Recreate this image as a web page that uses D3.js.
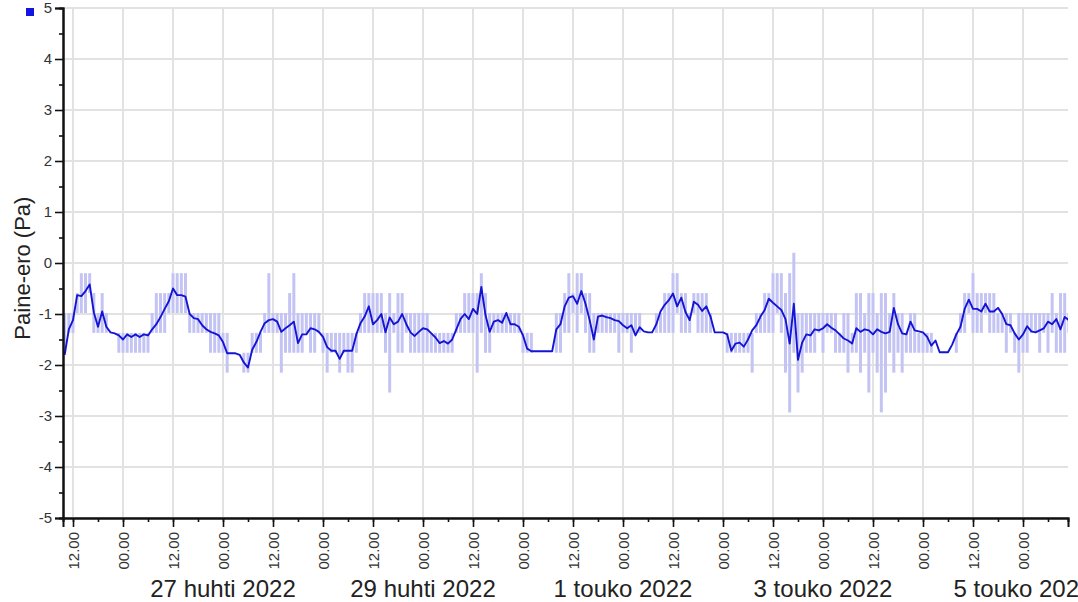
<!DOCTYPE html>
<html>
<head>
<meta charset="utf-8">
<script src="https://cdn.jsdelivr.net/npm/d3@7"></script>
<style>
  body { margin: 0; background: #fff; overflow: hidden; }
  svg { display: block; font-family: "Liberation Sans", Arial, sans-serif; }
</style>
</head>
<body>
<svg id="chart"></svg>
<script>
// hourly samples from 25.4.2022 10:00 onwards
const startTime = "2022-04-25T10:00";

// hourly mean pressure difference (Pa)
const paineKeski = [
  -1.8, -1.3, -1.12, -0.63, -0.65, -0.55, -0.42, -0.97, -1.25, -0.95,
  -1.25, -1.36, -1.38, -1.42, -1.5, -1.4, -1.45, -1.4, -1.45, -1.4,
  -1.42, -1.3, -1.2, -1.06, -0.9, -0.75, -0.5, -0.63, -0.63, -0.66,
  -1.0, -1.08, -1.1, -1.22, -1.3, -1.35, -1.38, -1.42, -1.55, -1.77,
  -1.77, -1.77, -1.8, -1.95, -2.05, -1.7, -1.55, -1.35, -1.18, -1.12,
  -1.1, -1.15, -1.35, -1.28, -1.22, -1.15, -1.57, -1.4, -1.4, -1.28,
  -1.3, -1.35, -1.45, -1.65, -1.72, -1.72, -1.88, -1.72, -1.72, -1.72,
  -1.4, -1.18, -1.05, -0.85, -1.2, -1.12, -1.0, -1.36, -1.07, -1.2,
  -1.15, -1.0, -1.2, -1.36, -1.43, -1.35, -1.28, -1.3, -1.38, -1.46,
  -1.57, -1.53, -1.58, -1.5, -1.3, -1.1, -1.0, -1.1, -0.9, -1.0,
  -0.47, -1.02, -1.35, -1.15, -1.12, -1.17, -0.98, -1.2, -1.2, -1.25,
  -1.42, -1.68, -1.73, -1.73, -1.73, -1.73, -1.73, -1.73, -1.3, -1.2,
  -0.85, -0.68, -0.65, -0.8, -0.55, -0.8, -1.12, -1.5, -1.05, -1.03,
  -1.06, -1.08, -1.12, -1.14, -1.22, -1.28, -1.22, -1.42, -1.26, -1.34,
  -1.36, -1.36, -1.2, -0.95, -0.82, -0.73, -0.6, -0.85, -0.68, -0.96,
  -1.12, -0.76, -0.82, -0.94, -0.85, -1.05, -1.36, -1.36, -1.36, -1.4,
  -1.72, -1.58, -1.56, -1.64, -1.5, -1.32, -1.22, -1.05, -0.92, -0.7,
  -0.78, -0.85, -0.92, -1.1, -1.58, -0.8, -1.9, -1.56, -1.4, -1.42,
  -1.3, -1.32, -1.28, -1.2, -1.27, -1.32, -1.4, -1.48, -1.52, -1.58,
  -1.28, -1.35, -1.3, -1.32, -1.4, -1.3, -1.35, -1.38, -1.35, -0.88,
  -1.2, -1.38, -1.4, -1.15, -1.32, -1.34, -1.36, -1.45, -1.62, -1.52,
  -1.75, -1.75, -1.75, -1.6, -1.4, -1.25, -0.9, -0.72, -0.9, -0.9,
  -0.95, -0.8, -0.95, -0.95, -0.88, -1.0, -1.2, -1.22, -1.38, -1.5,
  -1.4, -1.24, -1.34, -1.36, -1.32, -1.28, -1.15, -1.2, -1.1, -1.3,
  -1.06, -1.12
];

// hourly max / min of the raw readings (null = no spread)
const paineMax = [
  -0.98, -0.98, -0.98, -0.59, -0.2, -0.2, -0.2, -0.59, -0.98, -0.59,
  -0.98, null, null, -1.37, -1.37, -1.37, -1.37, -1.37, -1.37, -1.37,
  -1.37, -0.98, -0.59, -0.59, -0.59, -0.59, -0.2, -0.2, -0.2, -0.2,
  -0.98, -0.98, -0.98, -0.98, -0.98, -0.98, -0.98, -0.98, -1.37, -1.37,
  null, null, null, -1.76, -1.76, -1.37, -1.37, -1.37, -0.98, -0.2,
  -0.98, -0.98, -0.98, -0.98, -0.59, -0.2, -0.98, -0.98, -0.98, -0.98,
  -0.98, -0.98, -1.37, -1.37, -1.37, -1.37, -1.37, -1.37, -1.37, -1.37,
  -1.37, -0.98, -0.59, -0.59, -0.59, -0.59, -0.59, -0.98, -0.59, -0.98,
  -0.59, -0.59, -0.98, -0.98, -0.98, -0.98, -0.98, -0.98, -1.37, -1.37,
  -1.37, -1.37, -1.37, -1.37, -0.98, -0.98, -0.59, -0.59, -0.59, -0.59,
  -0.2, -0.59, -0.98, -0.98, -0.98, -0.98, -0.98, -0.98, -0.98, -0.98,
  -1.37, -1.37, -1.37, null, null, null, null, null, -0.98, -0.98,
  -0.59, -0.2, -0.59, -0.2, -0.2, -0.59, -0.59, -0.98, -0.98, -0.98,
  -0.98, -0.98, -0.98, -0.98, -0.98, -0.98, -0.98, -0.98, -0.98, null,
  null, null, -0.98, -0.98, -0.59, -0.59, -0.2, -0.2, -0.59, -0.59,
  -0.98, -0.59, -0.59, -0.59, -0.59, -0.98, null, null, null, -1.37,
  -1.37, -1.37, -1.37, -1.37, -1.37, -1.37, -0.98, -0.98, -0.59, -0.59,
  -0.2, -0.2, -0.2, -0.59, -0.2, 0.2, -0.98, -0.98, -0.98, -0.98,
  -0.98, -0.98, -0.98, -0.98, -0.98, -0.98, -1.37, -0.98, -0.98, -1.37,
  -0.59, -0.59, -0.98, -0.59, -0.59, -0.98, -0.59, -0.59, -0.98, -0.59,
  -0.98, -0.98, -1.37, -0.98, -0.98, -1.37, -1.37, -1.37, -1.37, null,
  null, null, null, null, -1.37, -0.98, -0.59, -0.59, -0.2, -0.59,
  -0.59, -0.59, -0.59, -0.59, -0.98, -0.98, -0.98, -0.98, -1.37, -0.98,
  -0.98, -0.98, -0.98, -0.98, -0.98, -0.98, -0.98, -0.59, -0.98, -0.59,
  -0.59, -0.98
];

const paineMin = [
  -1.76, -1.37, -1.37, -0.98, -0.98, -0.98, -0.59, -1.37, -1.37, -1.37,
  -1.37, null, null, -1.76, -1.76, -1.76, -1.76, -1.76, -1.76, -1.76,
  -1.76, -1.37, -1.37, -1.37, -1.37, -0.98, -0.98, -0.98, -0.98, -0.98,
  -1.37, -1.37, -1.37, -1.37, -1.37, -1.76, -1.76, -1.76, -1.76, -2.15,
  null, null, null, -2.15, -2.15, -1.76, -1.76, -1.76, -1.37, -1.37,
  -1.37, -1.37, -2.15, -1.76, -1.76, -1.76, -1.76, -1.76, -1.37, -1.76,
  -1.76, -1.37, -1.76, -2.15, -1.76, -1.76, -2.15, -1.76, -2.15, -2.15,
  -1.76, -1.37, -1.37, -1.37, -1.37, -1.37, -1.37, -1.76, -2.54, -1.37,
  -1.76, -1.76, -1.37, -1.76, -1.76, -1.76, -1.76, -1.76, -1.76, -1.76,
  -1.76, -1.76, -1.76, -1.76, -1.37, -1.37, -1.37, -1.37, -1.37, -2.15,
  -1.37, -1.76, -1.76, -1.37, -1.37, -1.37, -1.37, -1.37, -1.37, -1.37,
  -1.76, -1.76, -1.76, null, null, null, null, null, -1.76, -1.76,
  -1.37, -1.37, -0.98, -1.37, -0.98, -1.37, -1.76, -1.76, -1.37, -1.37,
  -1.37, -1.37, -1.37, -1.76, -1.37, -1.37, -1.76, -1.37, -1.37, null,
  null, null, -1.37, -1.37, -1.37, -1.37, -1.37, -0.98, -1.37, -1.37,
  -1.37, -0.98, -1.37, -1.37, -1.37, -1.37, null, null, null, -1.76,
  -1.76, -1.76, -1.76, -1.76, -1.76, -2.15, -1.37, -1.37, -1.37, -1.37,
  -1.37, -0.98, -1.37, -2.15, -2.93, -1.76, -2.54, -2.15, -1.76, -1.76,
  -1.76, -1.37, -1.76, -1.37, -1.37, -1.76, -1.76, -1.76, -2.15, -1.76,
  -1.76, -2.15, -1.76, -2.54, -1.76, -2.15, -2.93, -2.54, -1.76, -2.15,
  -1.76, -2.15, -1.76, -1.76, -1.76, -1.76, -1.76, -1.76, -1.76, null,
  null, null, null, null, -1.76, -1.37, -1.37, -0.98, -1.37, -1.37,
  -1.37, -0.98, -1.37, -1.37, -1.37, -1.37, -1.76, -1.37, -1.76, -2.15,
  -1.76, -1.76, -1.37, -1.37, -1.76, -1.37, -1.76, -1.37, -1.76, -1.76,
  -1.76, -1.37
];

const xDomain = ["2022-04-25T09:36", "2022-05-05T10:48"];
const yTicks = [-5, -4, -3, -2, -1, 0, 1, 2, 3, 4, 5];
const dateTicks = ["2022-04-27T00:00", "2022-04-29T00:00", "2022-05-01T00:00", "2022-05-03T00:00", "2022-05-05T00:00"];
const dateLabels = ["27 huhti 2022", "29 huhti 2022", "1 touko 2022", "3 touko 2022", "5 touko 2022"];
const yLabel = "Paine-ero (Pa)";

const W = 1078, H = 602;
const margin = {top: 8, right: 10, bottom: 84, left: 63},
    width = W - margin.left - margin.right,
    height = H - margin.top - margin.bottom;

const parse = d3.timeParse("%Y-%m-%dT%H:%M");
const t0 = parse(startTime);
const data = paineKeski.map((v, i) => ({
    t: d3.timeHour.offset(t0, i),
    v: v,
    hi: paineMax[i],
    lo: paineMin[i]
}));

const x = d3.scaleTime()
    .domain(xDomain.map(parse))
    .range([0, width]);

const y = d3.scaleLinear()
    .domain([-5, 5])
    .range([height, 0]);

const svg = d3.select('#chart')
    .attr("width", W)
    .attr("height", H);

const g = svg.append("g")
    .attr("transform", "translate(" + margin.left + "," + margin.top + ")");

svg.append("defs").append("clipPath").attr("id", "plot")
    .append("rect").attr("width", width).attr("height", height);

// grid
g.append("g").selectAll("line")
    .data(yTicks).enter().append("line")
    .attr("x1", 0).attr("x2", width)
    .attr("y1", d => y(d)).attr("y2", d => y(d))
    .style("stroke", "#e2e2e2").style("stroke-width", 2);

g.append("g").selectAll("line")
    .data(x.ticks(d3.timeHour.every(12))).enter().append("line")
    .attr("x1", d => x(d)).attr("x2", d => x(d))
    .attr("y1", 0).attr("y2", height)
    .style("stroke", "#e2e2e2").style("stroke-width", 2);

const plot = g.append("g").attr("clip-path", "url(#plot)");

// min-max spread
plot.append("g").selectAll("rect")
    .data(data.filter(d => d.hi !== null)).enter().append("rect")
    .attr("x", d => x(d.t) - 1.5)
    .attr("width", 3)
    .attr("y", d => y(d.hi))
    .attr("height", d => y(d.lo) - y(d.hi))
    .style("fill", "#c4c4f4");

const line = d3.line()
    .x(d => x(d.t))
    .y(d => y(d.v));

plot.append("path")
    .datum(data)
    .attr("d", line)
    .style("fill", "none")
    .style("stroke", "#1414d4")
    .style("stroke-width", 1.9)
    .style("stroke-linejoin", "round");

// y axis
const yMinor = g.append("g")
    .call(d3.axisLeft(y).tickValues(d3.range(-4.5, 5, 1)).tickSize(4).tickFormat(""));
const yAxis = g.append("g")
    .call(d3.axisLeft(y).tickValues(yTicks).tickSize(8).tickPadding(3).tickFormat(d => String(d)));

// x axis
const xMinor = g.append("g")
    .attr("transform", "translate(0," + height + ")")
    .call(d3.axisBottom(x).ticks(d3.timeHour.every(6)).tickSize(4).tickFormat(""));
const xAxis = g.append("g")
    .attr("transform", "translate(0," + height + ")")
    .call(d3.axisBottom(x).ticks(d3.timeHour.every(12)).tickSize(9).tickFormat(d3.timeFormat("%H.%M")));

xAxis.selectAll("text")
    .attr("y", 0)
    .attr("x", -14)
    .attr("dy", "0.35em")
    .attr("transform", "rotate(-90)")
    .style("text-anchor", "end")
    .style("font-size", "15px");

[yMinor, yAxis, xMinor, xAxis].forEach(a => {
    a.select(".domain").style("stroke", "#111").style("stroke-width", 2);
    a.selectAll("line").style("stroke", "#111").style("stroke-width", 1.6);
    a.selectAll("text").style("fill", "#333").style("font-family", "Liberation Sans, Arial, sans-serif");
});
yAxis.selectAll("text").style("font-size", "15px");

// date labels
g.append("g").selectAll("text")
    .data(dateTicks).enter().append("text")
    .attr("x", d => x(parse(d)))
    .attr("y", height + 79)
    .attr("text-anchor", "middle")
    .style("font-size", "24px")
    .style("fill", "#222")
    .text((d, i) => dateLabels[i]);

svg.append("text")
    .attr("transform", "translate(22," + (margin.top + y(-0.1)) + ") rotate(-90)")
    .attr("text-anchor", "middle")
    .attr("dominant-baseline", "central")
    .style("font-size", "22px")
    .style("fill", "#222")
    .text(yLabel);

// legend swatch
svg.append("rect")
    .attr("x", 26).attr("y", 8)
    .attr("width", 8).attr("height", 8)
    .style("fill", "#1414e0");
</script>
</body>
</html>
